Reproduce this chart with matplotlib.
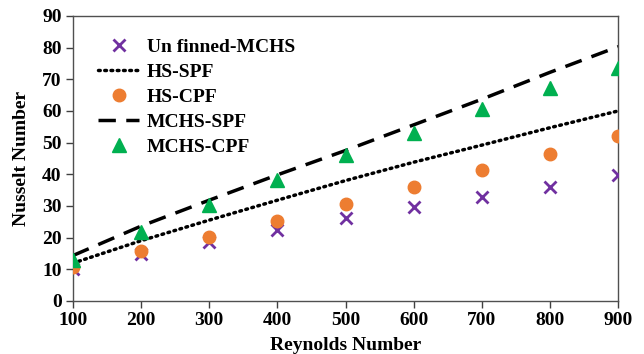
import matplotlib
matplotlib.use("Agg")
import matplotlib.pyplot as plt

re_vals = [100, 200, 300, 400, 500, 600, 700, 800, 900]
unfinned_mchs = [10.1, 14.8, 18.6, 22.4, 26.3, 29.5, 32.9, 36.1, 39.8]
hs_spf = [11.9, 19.0, 25.5, 31.8, 38.0, 43.8, 49.2, 54.7, 60.0]
hs_cpf = [10.6, 15.7, 20.3, 25.3, 30.6, 35.9, 41.4, 46.3, 52.1]
mchs_spf = [14.3, 23.6, 31.8, 39.8, 47.5, 55.6, 63.7, 72.2, 80.3]
mchs_cpf = [12.9, 21.9, 30.3, 38.2, 46.1, 53.1, 60.6, 67.2, 73.7]

plt.rcParams['font.family'] = ['Liberation Serif', 'DejaVu Serif']
plt.rcParams['font.weight'] = 'bold'

fig = plt.figure(figsize=(6.44, 3.54), dpi=100)
ax = fig.add_axes([0.113, 0.150, 0.847, 0.805])

ax.plot(re_vals, unfinned_mchs, 'x', color='#7030A0', ms=8.5, mew=2,
        label='Un finned-MCHS', zorder=3)
ax.plot(re_vals, hs_spf, color='black', lw=2.5, linestyle=(0, (0.5, 1.3)),
        dash_capstyle='round', label='HS-SPF', zorder=2)
ax.plot(re_vals, hs_cpf, 'o', color='#ED7D31', ms=9, mec='#ED7D31',
        label='HS-CPF', zorder=3)
ax.plot(re_vals, mchs_spf, color='black', lw=2.5, linestyle=(0, (5, 3)),
        label='MCHS-SPF', zorder=2)
ax.plot(re_vals, mchs_cpf, '^', color='#00B050', ms=9.5,
        label='MCHS-CPF', zorder=3)

ax.set_xlim(100, 900)
ax.set_ylim(0, 90)
ax.set_xticks(re_vals)
ax.set_yticks(range(0, 91, 10))
ax.tick_params(axis='both', direction='out', length=5, width=1,
               color='#404040', labelsize=14, pad=3)
for lab in ax.get_xticklabels() + ax.get_yticklabels():
    lab.set_fontweight('bold')
for sp in ax.spines.values():
    sp.set_color('#505050')
    sp.set_linewidth(1)

ax.set_xlabel('Reynolds Number', fontsize=14, fontweight='bold', labelpad=6)
ax.set_ylabel('Nusselt Number', fontsize=14, fontweight='bold', labelpad=9)

leg = ax.legend(loc='upper left', frameon=False, fontsize=14,
                bbox_to_anchor=(0.022, 0.968), handlelength=2.1,
                labelspacing=0.38, handletextpad=0.4, borderaxespad=0.3)
for t in leg.get_texts():
    t.set_fontweight('bold')

fig.savefig('out.png', dpi=100)
